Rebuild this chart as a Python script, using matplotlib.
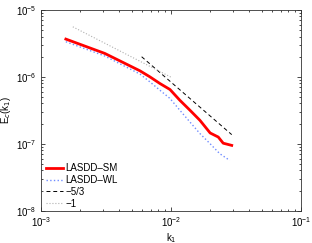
import numpy as np
import matplotlib
matplotlib.use('Agg')
import matplotlib.pyplot as plt

# LASDD-SM
k_sm = [1.556e-3, 3.10e-3, 5.78e-3, 6.89e-3, 8.22e-3, 9.83e-3, 1.17e-2, 1.40e-2,
        1.67e-2, 2.0e-2, 2.31e-2, 2.52e-2, 2.93e-2]
E_sm = [3.67e-6, 2.24e-6, 1.23e-6, 1.0e-6, 7.96e-7, 6.47e-7, 4.47e-7, 3.17e-7,
        2.24e-7, 1.45e-7, 1.26e-7, 1.02e-7, 9.46e-8]

# LASDD-WL
k_wl = [1.556e-3, 3.10e-3, 5.78e-3, 6.89e-3, 8.22e-3, 9.83e-3, 1.17e-2, 1.40e-2,
        1.67e-2, 2.0e-2, 2.37e-2, 2.83e-2]
E_wl = [3.35e-6, 2.05e-6, 1.10e-6, 8.41e-7, 6.32e-7, 4.75e-7, 3.17e-7, 2.11e-7,
        1.42e-7, 1.0e-7, 7.11e-8, 5.64e-8]

# reference slopes
k_53 = [5.95e-3, 2.93e-2]
E_53 = [2.0e-6, 1.37e-7]
k_1 = [1.76e-3, 1.0e-2]
E_1 = [5.6e-6, 9.9e-7]

plt.rcParams['font.family'] = ['Liberation Sans', 'DejaVu Sans']
plt.rcParams['font.size'] = 7

fig = plt.figure(figsize=(3.12, 2.43), dpi=100)
ax = fig.add_axes([0.131, 0.133, 0.834, 0.826])

ax.loglog(k_sm, E_sm, color='red', lw=2, label='LASDD\u2013SM')
ax.loglog(k_wl, E_wl, color='#6f8cff', lw=1, ls=':', label='LASDD\u2013WL')
ax.loglog(k_53, E_53, color='black', lw=0.7, ls=(0, (4, 3)), label='\u22125/3')
ax.loglog(k_1, E_1, color='#b0b0b0', lw=0.8, ls=':', label='\u22121')

ax.set_xlim(1e-3, 1e-1)
ax.set_ylim(1e-8, 1e-5)
ax.set_xlabel('k$_1$', labelpad=1)
ax.set_ylabel('E$_c$(k$_1$)', labelpad=2)

ax.tick_params(which='both', direction='in', top=True, right=True, width=0.5)
ax.tick_params(which='major', length=3)
ax.tick_params(which='minor', length=1.5)
for s in ax.spines.values():
    s.set_linewidth(0.6)
    s.set_color('#333333')

leg = ax.legend(loc='lower left', bbox_to_anchor=(0.0, -0.015), frameon=False,
                handlelength=1.75, handletextpad=0.3, labelspacing=0.2,
                borderaxespad=0.1, fontsize=7)

fig.savefig('out.png', dpi=100)
